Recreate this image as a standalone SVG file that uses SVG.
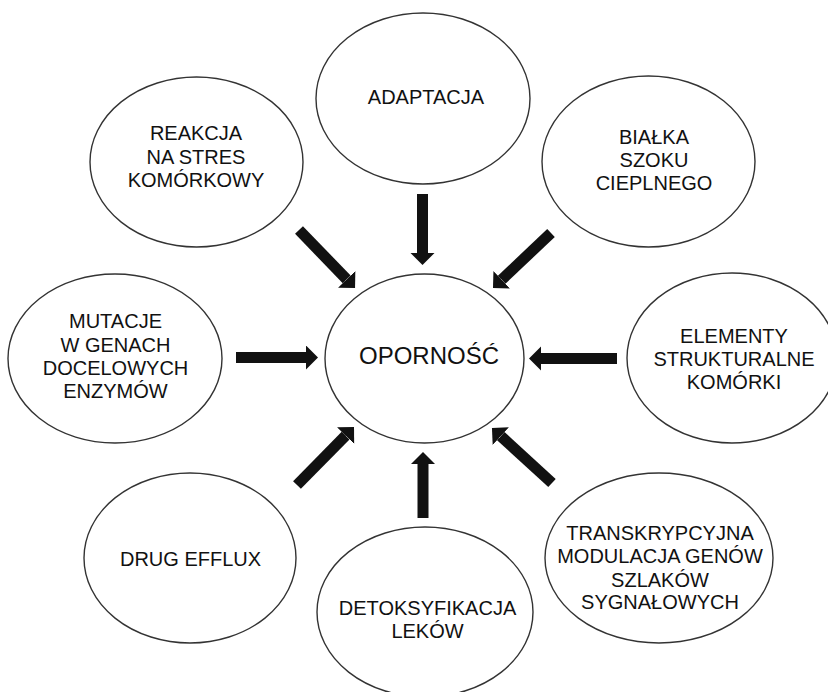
<svg xmlns="http://www.w3.org/2000/svg" width="828" height="692" viewBox="0 0 828 692">
<defs>
<style>
.node ellipse{fill:#fff;stroke:#333;stroke-width:1.4}
.node text{font-family:"Liberation Sans",Arial,sans-serif;font-size:20px;fill:#111;text-anchor:middle}
.conn line{stroke:#111;stroke-width:11;stroke-linecap:butt;marker-end:url(#ah)}
</style>
<marker id="ah" markerUnits="userSpaceOnUse" markerWidth="14" markerHeight="26" refX="0" refY="12" orient="auto"><path d="M0,0 L12,12 L0,24 z" fill="#111"/></marker>
</defs>
<rect width="828" height="692" fill="#fff"/>
<g id="adaptacja" class="node"><ellipse cx="423" cy="98.5" rx="107" ry="85.5"/><text x="426" y="104">ADAPTACJA</text></g>
<g id="reakcja" class="node"><ellipse cx="196.5" cy="162" rx="106.5" ry="85"/><text x="196" y="140">REAKCJA</text><text x="196" y="164">NA STRES</text><text x="196" y="187">KOMÓRKOWY</text></g>
<g id="bialka" class="node"><ellipse cx="648.5" cy="161.5" rx="106.5" ry="85.5"/><text x="654" y="144">BIAŁKA</text><text x="654" y="167">SZOKU</text><text x="654" y="190">CIEPLNEGO</text></g>
<g id="mutacje" class="node"><ellipse cx="115" cy="358.5" rx="107" ry="84.5"/><text x="115.5" y="328">MUTACJE</text><text x="115.5" y="352">W GENACH</text><text x="115.5" y="375">DOCELOWYCH</text><text x="115.5" y="398">ENZYMÓW</text></g>
<g id="opornosc" class="node"><ellipse cx="424.5" cy="358.5" rx="99.5" ry="84.5"/><text x="429" y="364" style="font-size:24px">OPORNOŚĆ</text></g>
<g id="elementy" class="node"><ellipse cx="732" cy="358" rx="105" ry="85"/><text x="734" y="343">ELEMENTY</text><text x="734" y="366">STRUKTURALNE</text><text x="734" y="389">KOMÓRKI</text></g>
<g id="drug-efflux" class="node"><ellipse cx="190" cy="558" rx="106" ry="85"/><text x="190.5" y="566">DRUG EFFLUX</text></g>
<g id="detoksyfikacja" class="node"><ellipse cx="425" cy="612" rx="108" ry="85"/><text x="427.5" y="615">DETOKSYFIKACJA</text><text x="427.5" y="638">LEKÓW</text></g>
<g id="transkrypcyjna" class="node"><ellipse cx="659" cy="558" rx="114" ry="85"/><text x="660" y="540">TRANSKRYPCYJNA</text><text x="660" y="563">MODULACJA GENÓW</text><text x="660" y="587">SZLAKÓW</text><text x="660" y="609">SYGNAŁOWYCH</text></g>
<g id="connectors" class="conn">
<line x1="299" y1="230" x2="346.7" y2="279.4"/>
<line x1="422.5" y1="194" x2="422.5" y2="253"/>
<line x1="551" y1="233" x2="501.7" y2="279.7"/>
<line x1="236" y1="357.5" x2="306" y2="357.5"/>
<line x1="617" y1="358.5" x2="541" y2="358.5"/>
<line x1="297" y1="485" x2="345.6" y2="435.6"/>
<line x1="423" y1="518" x2="423" y2="464"/>
<line x1="552" y1="483" x2="500.8" y2="436.1"/>
</g>
</svg>
